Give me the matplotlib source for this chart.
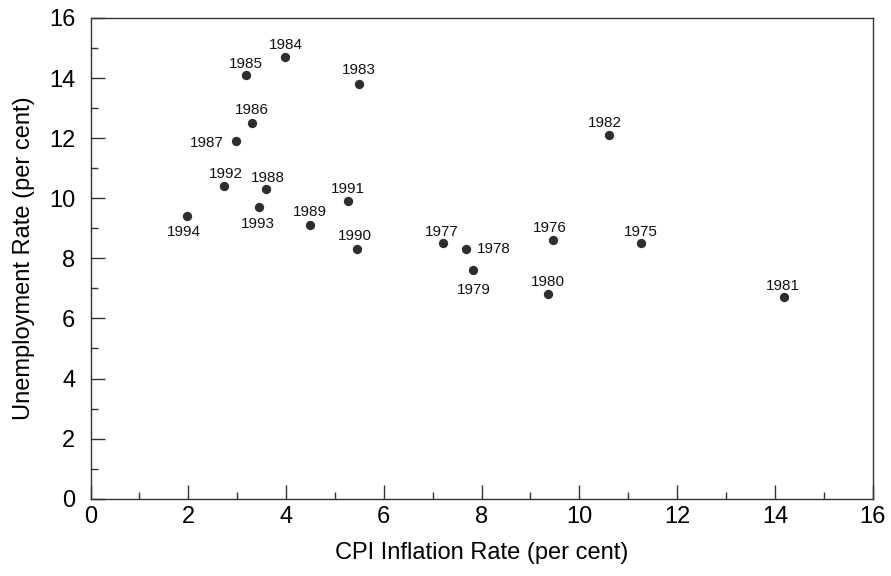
import matplotlib
matplotlib.use("Agg")
import matplotlib.pyplot as plt
from matplotlib.ticker import MultipleLocator

plt.rcParams['font.family'] = ['Liberation Sans', 'DejaVu Sans']

years = [1975, 1976, 1977, 1978, 1979, 1980, 1981, 1982, 1983, 1984,
         1985, 1986, 1987, 1988, 1989, 1990, 1991, 1992, 1993, 1994]
inflation = [11.26, 9.47, 7.22, 7.69, 7.83, 9.36, 14.18, 10.60, 5.49, 3.98,
             3.18, 3.30, 2.98, 3.58, 4.49, 5.46, 5.26, 2.73, 3.45, 1.97]
unemployment = [8.5, 8.6, 8.5, 8.3, 7.6, 6.8, 6.7, 12.1, 13.8, 14.7,
                14.1, 12.5, 11.9, 10.3, 9.1, 8.3, 9.9, 10.4, 9.7, 9.4]

# label placement (pixel offsets: dx, dy-up, horizontal alignment)
label_pos = {
    1975: (0, 11, 'center'), 1976: (-4, 12, 'center'), 1977: (-2, 11, 'center'),
    1978: (10, 0, 'left'), 1979: (1, -20, 'center'), 1980: (0, 12, 'center'),
    1981: (-1, 11, 'center'), 1982: (-4, 12, 'center'), 1983: (0, 14, 'center'),
    1984: (1, 12, 'center'), 1985: (0, 11, 'center'), 1986: (0, 13, 'center'),
    1987: (-12, -2, 'right'), 1988: (2, 11, 'center'), 1989: (0, 13, 'center'),
    1990: (-3, 13, 'center'), 1991: (0, 12, 'center'), 1992: (2, 12, 'center'),
    1993: (-1, -17, 'center'), 1994: (-3, -16, 'center'),
}

fig = plt.figure(figsize=(8.91, 5.76), dpi=100)
ax = fig.add_axes([90.5 / 891, 1 - 498.7 / 576, (872.7 - 90.5) / 891, (498.7 - 18) / 576])

ax.scatter(inflation, unemployment, s=45, color='#2e2e2e', zorder=3, linewidths=0)

for yr, x, y in zip(years, inflation, unemployment):
    dx, dy, ha = label_pos[yr]
    ax.annotate(str(yr), (x, y), xytext=(dx, dy), textcoords='offset pixels',
                ha=ha, va='center', fontsize=11, color='#111111')

ax.set_xlim(0, 16)
ax.set_ylim(0, 16)
ax.xaxis.set_major_locator(MultipleLocator(2))
ax.xaxis.set_minor_locator(MultipleLocator(1))
ax.yaxis.set_major_locator(MultipleLocator(2))
ax.yaxis.set_minor_locator(MultipleLocator(1))

ax.tick_params(axis='both', which='both', direction='in', colors='#333333',
               labelcolor='black', width=1)
ax.tick_params(axis='both', which='major', length=10, labelsize=17)
ax.tick_params(axis='both', which='minor', length=5)
ax.tick_params(axis='x', which='major', pad=5)
ax.tick_params(axis='y', which='major', pad=11)

for sp in ax.spines.values():
    sp.set_color('#333333')
    sp.set_linewidth(1.0)

ax.set_xlabel('CPI Inflation Rate (per cent)', fontsize=17, labelpad=10)
ax.set_ylabel('Unemployment Rate (per cent)', fontsize=17, labelpad=10)

fig.savefig('out.png', dpi=100)
